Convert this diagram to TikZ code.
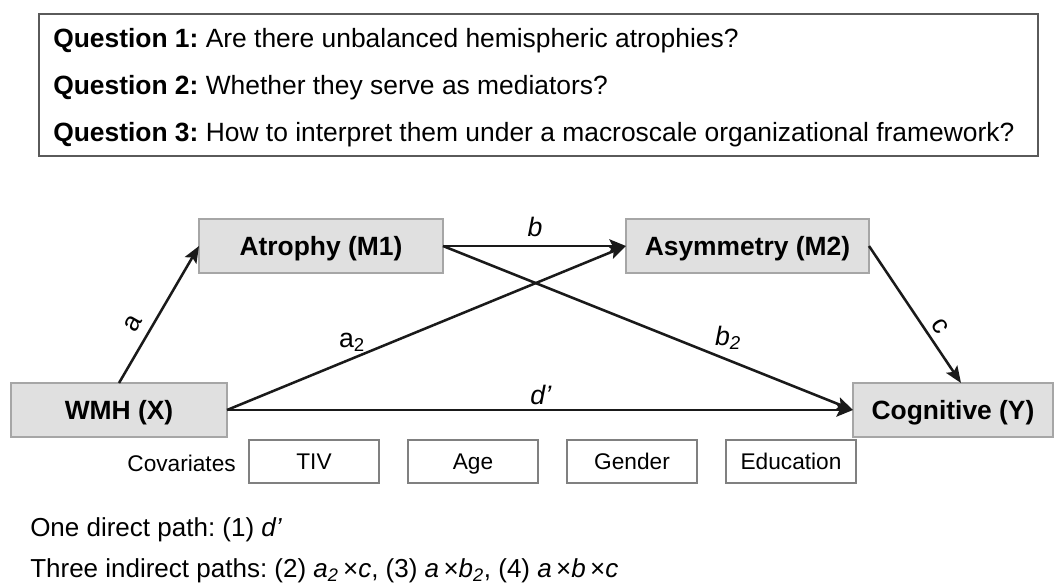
\documentclass[tikz,border=0pt]{standalone}
\usepackage{fontspec}
\setmainfont{Liberation Sans}
\frenchspacing
\usetikzlibrary{arrows.meta}
\definecolor{boxfill}{HTML}{E0E0E0}
\definecolor{boxline}{HTML}{A6A6A6}
\definecolor{covline}{HTML}{808080}
\definecolor{qline}{HTML}{5A5A5A}
\definecolor{ink}{HTML}{1A1A1A}
\begin{document}
\begin{tikzpicture}[x=0.75pt,y=-0.75pt,
  varbox/.style={draw=boxline, fill=boxfill, line width=1.1pt, minimum height=40.5pt,
    inner sep=0pt, outer sep=0pt, text height=14.2pt, text depth=0pt,
    font=\fontsize{19.8}{22}\selectfont\bfseries},
  covbox/.style={draw=covline, line width=0.8pt, minimum width=97.5pt, minimum height=32.25pt,
    inner sep=0pt, outer sep=0pt, text height=12.2pt, text depth=0pt,
    font=\fontsize{17}{20}\selectfont},
  conn/.style={draw=ink, line width=1.9pt, -{Stealth[length=12.5pt,width=10pt,inset=2.5pt]}},
  lbl/.style={font=\fontsize{20}{22}\selectfont, inner sep=0pt},
  qtext/.style={anchor=base west, font=\fontsize{19.8}{24}\selectfont, inner sep=0pt},
  btext/.style={anchor=base west, font=\fontsize{19.5}{24}\selectfont, inner sep=0pt}
]
\useasboundingbox (0,0) rectangle (1056,588);

% question box
\node (qbox) [draw=qline, line width=1.1pt, minimum width=749.25pt, minimum height=106.5pt,
  inner sep=0pt] at (538.5,85) {};
\node (q1) [qtext] at (53,47.5) {\textbf{Question 1:} Are there unbalanced hemispheric atrophies?};
\node (q2) [qtext] at (53,94.5) {\textbf{Question 2:} Whether they serve as mediators?};
\node (q3) [qtext] at (53,141.5) {\textbf{Question 3:} How to interpret them under a macroscale organizational framework?};

% variable boxes
\node (M1) [varbox, minimum width=183pt] at (321,246) {Atrophy (M1)};
\node (M2) [varbox, minimum width=182.25pt] at (747.5,246) {Asymmetry (M2)};
\node (X) [varbox, minimum width=162pt] at (119,410) {WMH (X)};
\node (Y) [varbox, minimum width=150pt] at (953,410) {Cognitive (Y)};

% covariates
\node (covlbl) [anchor=base east, inner sep=0pt, font=\fontsize{17}{20}\selectfont] at (236,471) {Covariates};
\node (tiv) [covbox] at (314,461.5) {TIV};
\node (age) [covbox] at (473,461.5) {Age};
\node (gen) [covbox] at (632,461.5) {Gender};
\node (edu) [covbox] at (791,461.5) {Education};

% connectors
\draw[conn] (X.north) -- (M1.west);
\draw[conn] (M1.east) -- (M2.west);
\draw[conn] (X.east) -- (M2.west);
\draw[conn] (M1.east) -- (Y.west);
\draw[conn] (X.east) -- (Y.west);
\draw[conn] (M2.east) -- ([xshift=6pt]Y.north);

% connector labels
\node (la) [lbl, rotate=60] at (133,324) {a};
\node (lb) [lbl] at (535,227) {\textit{b}};
\node (la2) [lbl] at (352,342) {a\textsubscript{2}};
\node (lb2) [lbl] at (728,338) {\textit{b}\textsubscript{\textit{2}}};
\node (ld) [lbl] at (541,395) {\textit{d’}};
\node (lc) [lbl, rotate=-57] at (940,326) {c};

% bottom text
\node (t1) [btext] at (30,536) {One direct path: (1) \textit{d’}};
\node (t2) [btext] at (30,577) {Three indirect paths: (2) \textit{a}\textsubscript{\textit{2}}\,×\textit{c}, (3) \textit{a}\,×\textit{b}\textsubscript{\textit{2}}, (4) \textit{a}\,×\textit{b}\,×\textit{c}};
\end{tikzpicture}
\end{document}
